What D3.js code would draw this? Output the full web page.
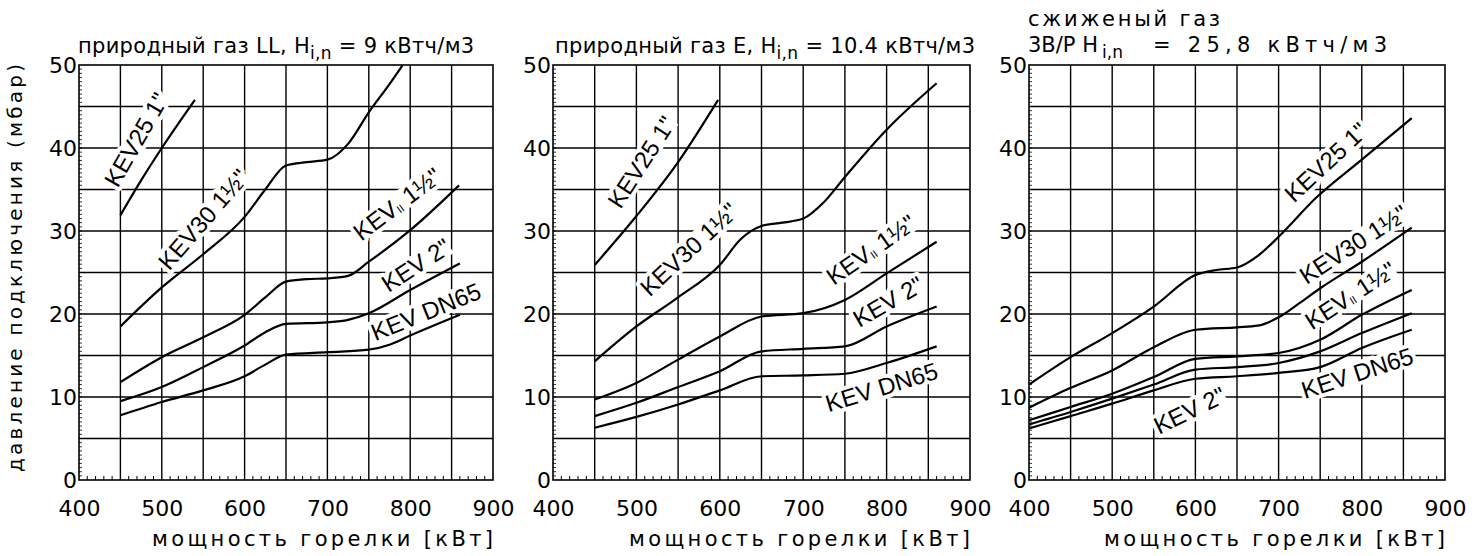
<!DOCTYPE html>
<html>
<head>
<meta charset="utf-8">
<title>давление подключения</title>
<script src="https://d3js.org/d3.v7.min.js"></script>
<style>
  body { margin: 0; background: #fff; }
  svg { display: block; }
</style>
</head>
<body>
<script>
// axis ticks
var xTicks = [400, 500, 600, 700, 800, 900];
var yTicks = [0, 10, 20, 30, 40, 50];

// curve names, same order in every panel
var seriesNames = ["KEV25", "KEV30", "KEV II", "KEV 2", "KEV DN65"];

// natural gas LL  [kW, mbar]
var curvesLL = [
  [[450,31.9],[475,36.1],[500,40.0],[540,45.8]],
  [[450,18.5],[500,23.2],[550,27.2],[600,31.7],[625,35.0],[650,37.9],[675,38.3],[700,38.6],[725,40.5],[750,44.3],[775,47.7],[791,50.0]],
  [[450,11.8],[500,14.8],[550,17.2],[600,19.9],[625,22.0],[650,23.9],[675,24.2],[700,24.3],[725,24.6],[750,26.3],[800,30.1],[859,35.5]],
  [[450,9.5],[500,11.2],[550,13.6],[600,16.2],[625,17.8],[650,18.8],[700,19.0],[725,19.3],[750,20.1],[800,22.9],[860,26.1]],
  [[450,7.8],[500,9.4],[550,10.8],[600,12.5],[625,13.9],[650,15.1],[700,15.4],[750,15.7],[775,16.3],[800,17.4],[860,19.9]]
];

// natural gas E
var curvesE = [
  [[450,25.9],[500,31.8],[550,38.3],[598,45.8]],
  [[450,14.3],[500,18.5],[550,22.0],[600,25.9],[625,29.0],[650,30.6],[675,31.0],[700,31.5],[725,33.5],[750,36.5],[800,42.2],[860,47.8]],
  [[450,9.7],[500,11.7],[550,14.5],[600,17.3],[650,19.7],[700,20.1],[750,21.7],[800,24.9],[860,28.7]],
  [[450,7.7],[500,9.3],[550,11.2],[600,13.1],[650,15.5],[700,15.8],[750,16.1],[800,18.5],[860,20.9]],
  [[450,6.3],[500,7.6],[550,9.1],[600,10.8],[650,12.5],[700,12.6],[750,12.8],[800,14.1],[860,16.1]]
];

// liquefied gas
var curvesLPG = [
  [[400,11.5],[450,14.8],[500,17.7],[550,20.9],[600,24.7],[625,25.3],[650,25.6],[675,27.0],[700,29.3],[745,34.0],[800,38.6],[860,43.6]],
  [[400,8.7],[450,11.1],[500,13.2],[550,16.0],[600,18.1],[650,18.4],[675,18.6],[700,19.6],[725,21.3],[750,23.1],[800,26.3],[860,30.4]],
  [[400,7.2],[450,8.8],[500,10.4],[550,12.4],[600,14.6],[650,14.9],[700,15.3],[750,16.9],[800,19.9],[860,22.9]],
  [[400,6.7],[450,8.2],[500,9.8],[550,11.5],[600,13.3],[650,13.6],[700,14.1],[750,15.5],[800,17.7],[860,20.1]],
  [[400,6.2],[450,7.7],[500,9.2],[550,10.8],[600,12.2],[650,12.5],[700,12.9],[750,13.6],[800,15.9],[860,18.1]]
];

// where the curve names sit: [kW, mbar, angle]
var labelsLL  = [[469,41.0,-60],[550,31.4,-49],[784,33.3,-37],[807,25.9,-33],[819,20.3,-22]];
var labelsE   = [[506,38.3,-57],[563,27.8,-43],[781,27.8,-35],[802,21.5,-30],[794,11.2,-17]];
var labelsLPG = [[757,38.3,-43],[790,28.4,-33],[786,22.3,-33],[593,8.4,-26],[794.5,12.9,-18]];

var width = 1476, height = 556;
var top_ = 65, bottom = 480;

var svg = d3.select("body").append("svg")
  .attr("width", width)
  .attr("height", height);

var panels = [
  {left: 79,   w: 414, curves: curvesLL,  labels: labelsLL},
  {left: 553,  w: 417, curves: curvesE,   labels: labelsE},
  {left: 1029, w: 416, curves: curvesLPG, labels: labelsLPG}
];

function drawLabel(g, i, x, y, lab) {
  var lg = g.append("g")
    .attr("transform", "translate(" + x(lab[0]) + "," + y(lab[1]) + ") rotate(" + lab[2] + ")");
  var t = lg.append("text")
    .attr("text-anchor", "middle")
    .attr("dominant-baseline", "central")
    .style("font-family", "'Liberation Sans', Arial, sans-serif")
    .style("font-size", "24px")
    .style("fill", "#000")
    .style("stroke", "#fff")
    .style("stroke-width", 8)
    .style("stroke-linejoin", "round")
    .style("paint-order", "stroke");
  if (i == 0) t.text("KEV25 1\"");
  else if (i == 1) t.text("KEV30 1\u00bd\"");
  else if (i == 2) {
    t.append("tspan").text("KEV");
    t.append("tspan").text("II").style("font-size", "11px").attr("dy", 6);
    t.append("tspan").text(" 1\u00bd\"").attr("dy", -6);
  }
  else if (i == 3) t.text("KEV 2\"");
  else t.text("KEV DN65");
  // white box under the text so the grid stops around it
  var bb = t.node().getBBox();
  lg.insert("rect", "text")
    .attr("x", bb.x).attr("y", bb.y + 3)
    .attr("width", bb.width).attr("height", bb.height - 6)
    .style("fill", "#fff");
}

panels.forEach(function(p) {
  var x = d3.scaleLinear().domain([400, 900]).range([p.left, p.left + p.w]);
  var y = d3.scaleLinear().domain([0, 50]).range([bottom, top_]);
  var g = svg.append("g");

  // grid
  g.selectAll(".vg").data(d3.range(450, 900, 50)).enter().append("line")
    .attr("x1", function(d) { return x(d); }).attr("x2", function(d) { return x(d); })
    .attr("y1", top_).attr("y2", bottom)
    .style("stroke", "#000").style("stroke-width", 1.4);
  g.selectAll(".hg").data(d3.range(5, 50, 5)).enter().append("line")
    .attr("y1", function(d) { return y(d); }).attr("y2", function(d) { return y(d); })
    .attr("x1", p.left).attr("x2", p.left + p.w)
    .style("stroke", "#000").style("stroke-width", 1.4);

  // small ticks on the left and bottom edges
  g.selectAll(".my").data(d3.range(0.5, 50, 0.5)).enter().append("line")
    .attr("y1", function(d) { return y(d); }).attr("y2", function(d) { return y(d); })
    .attr("x1", p.left).attr("x2", p.left + 3)
    .style("stroke", "#000").style("stroke-width", 0.8);
  g.selectAll(".mx").data(d3.range(410, 900, 10).filter(function(d) { return d % 50 != 0; })).enter().append("line")
    .attr("x1", function(d) { return x(d); }).attr("x2", function(d) { return x(d); })
    .attr("y1", bottom).attr("y2", bottom - 4)
    .style("stroke", "#000").style("stroke-width", 1);

  g.append("rect")
    .attr("x", p.left).attr("y", top_)
    .attr("width", p.w).attr("height", bottom - top_)
    .style("fill", "none").style("stroke", "#000").style("stroke-width", 1.6);

  // tick labels
  var ax = g.append("g").attr("transform", "translate(0," + bottom + ")")
    .call(d3.axisBottom(x).tickValues(xTicks).tickSize(0).tickPadding(20));
  var ay = g.append("g").attr("transform", "translate(" + p.left + ",0)")
    .call(d3.axisLeft(y).tickValues(yTicks).tickSize(0).tickPadding(2));
  [ax, ay].forEach(function(a) {
    a.select(".domain").remove();
    a.selectAll("text")
      .style("font-family", "'DejaVu Sans', sans-serif")
      .style("font-size", "22px")
      .style("fill", "#000");
  });

  // curve names
  p.labels.forEach(function(lab, i) { drawLabel(g, i, x, y, lab); });

  // curves
  var line = d3.line()
    .x(function(d) { return x(d[0]); })
    .y(function(d) { return y(d[1]); })
    .curve(d3.curveMonotoneX);
  g.selectAll(".curve").data(p.curves).enter().append("path")
    .attr("d", line)
    .style("fill", "none").style("stroke", "#000").style("stroke-width", 2.2);

  // x axis title
  g.append("text")
    .attr("x", p.left + p.w).attr("y", 546)
    .attr("text-anchor", "end")
    .attr("textLength", 341).attr("lengthAdjust", "spacing")
    .style("font-family", "'DejaVu Sans', sans-serif")
    .style("font-size", "21px")
    .text("мощность горелки  [кВт]");
});

// titles
function title(xpos, before, after) {
  var t = svg.append("text")
    .attr("x", xpos).attr("y", 53)
    .style("font-family", "'DejaVu Sans', sans-serif")
    .style("font-size", "21px")
    .style("letter-spacing", "0.3px");
  t.append("tspan").text(before);
  t.append("tspan").text("i,n").style("font-size", "17px").attr("dy", 6);
  t.append("tspan").text(after).attr("dy", -6);
}
title(78, "природный газ LL, H", " = 9 кВтч/м3");
title(555, "природный газ E, H", " = 10.4 кВтч/м3");

// liquefied gas title, letter-spaced
function spaced(xpos, ypos, len, size, s) {
  var t = svg.append("text")
    .attr("x", xpos).attr("y", ypos)
    .style("font-family", "'DejaVu Sans', sans-serif")
    .style("font-size", size + "px")
    .text(s);
  if (len) t.attr("textLength", len).attr("lengthAdjust", "spacing");
}
spaced(1028, 26, 192, 21, "сжиженый газ");
spaced(1028, 52, 70, 21, "3B/P H");
spaced(1102, 58, 0, 17, "i,n");
spaced(1153, 52, 234, 21, "= 25,8 кВтч/м3");

// y axis title
svg.append("text")
  .attr("transform", "translate(22,268) rotate(-90)")
  .attr("text-anchor", "middle")
  .attr("textLength", 408).attr("lengthAdjust", "spacing")
  .style("font-family", "'DejaVu Sans', sans-serif")
  .style("font-size", "20px")
  .text("давление подключения (мбар)");
</script>
</body>
</html>
